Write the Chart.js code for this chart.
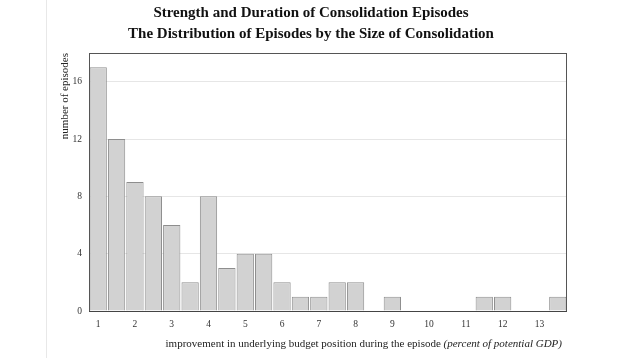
<!DOCTYPE html>
<html>
<head>
<meta charset="utf-8">
<script src="https://cdn.jsdelivr.net/npm/chart.js@4"></script>
<style>
  html, body { margin: 0; padding: 0; background: #ffffff; }
  #wrap { width: 636px; height: 358px; }
</style>
</head>
<body>
<div id="wrap"><canvas id="chart" width="636" height="358"></canvas></div>
<script>
// bin centres (percent of potential GDP), half-point bins
const binCenters = [1, 1.5, 2, 2.5, 3, 3.5, 4, 4.5, 5, 5.5, 6, 6.5, 7, 7.5, 8, 8.5, 9, 9.5, 10, 10.5, 11, 11.5, 12, 12.5, 13, 13.5];
const episodeCounts = [17, 12, 9, 8, 6, 2, 8, 3, 4, 4, 2, 1, 1, 2, 2, 0, 1, 0, 0, 0, 0, 1, 1, 0, 0, 1];
const xTickValues = [1, 2, 3, 4, 5, 6, 7, 8, 9, 10, 11, 12, 13];
const yTickValues = [0, 4, 8, 12, 16];
const titleLines = [
  "Strength and Duration of Consolidation Episodes",
  "The Distribution of Episodes by the Size of Consolidation"
];
const yTitle = "number of episodes";
const xTitleMain = "improvement in underlying budget position during the episode ";
const xTitleNote = "(percent of potential GDP)";

const SERIF = "'Liberation Serif', 'DejaVu Serif', serif";

// frame round the plot, faint page rule on the left, and the mixed-style x title
const decorations = {
  id: "decorations",
  beforeDraw(chart) {
    const ctx = chart.ctx;
    ctx.save();
    ctx.strokeStyle = "#e8e8e8";
    ctx.lineWidth = 1;
    ctx.beginPath();
    ctx.moveTo(46.5, 0);
    ctx.lineTo(46.5, chart.height);
    ctx.stroke();
    ctx.restore();
  },
  afterDatasetsDraw(chart) {
    const { ctx, chartArea } = chart;
    ctx.save();
    ctx.strokeStyle = "#555555";
    ctx.lineWidth = 1;
    ctx.strokeRect(
      Math.round(chartArea.left) + 0.5,
      Math.round(chartArea.top) + 0.5,
      Math.round(chartArea.right - chartArea.left) - 1,
      Math.round(chartArea.bottom - chartArea.top)
    );
    // slightly heavier baseline
    ctx.strokeStyle = "#444444";
    ctx.beginPath();
    ctx.moveTo(chartArea.left, Math.round(chartArea.bottom) + 0.5);
    ctx.lineTo(chartArea.right, Math.round(chartArea.bottom) + 0.5);
    ctx.stroke();

    // x axis title: plain part + italic part, right-aligned under the plot
    ctx.fillStyle = "#222222";
    ctx.textBaseline = "middle";
    ctx.textAlign = "left";
    const y = 344;
    ctx.font = "italic 11px " + SERIF;
    const noteW = ctx.measureText(xTitleNote).width;
    ctx.font = "11px " + SERIF;
    const mainW = ctx.measureText(xTitleMain).width;
    const x0 = chartArea.right - 5 - noteW - mainW;
    ctx.fillText(xTitleMain, x0, y);
    ctx.font = "italic 11px " + SERIF;
    ctx.fillText(xTitleNote, x0 + mainW, y);
    ctx.restore();
  }
};

const data = {
  datasets: [{
    label: "episodes",
    data: binCenters.map((c, i) => ({ x: c, y: episodeCounts[i] })),
    backgroundColor: "#d2d2d2",
    borderColor: "#8e8e8e",
    borderWidth: 1,
    barPercentage: 0.94,
    categoryPercentage: 1
  }]
};

new Chart(document.getElementById("chart"), {
  type: "bar",
  data: data,
  plugins: [decorations],
  options: {
    responsive: false,
    animation: false,
    layout: { padding: { left: 55, right: 69, top: 0, bottom: 0 } },
    plugins: {
      legend: { display: false },
      tooltip: { enabled: false },
      title: {
        display: true,
        text: titleLines,
        color: "#111111",
        font: { family: SERIF, size: 15, weight: "bold", lineHeight: 1.4 },
        padding: { top: 3, bottom: 8 }
      }
    },
    scales: {
      x: {
        type: "linear",
        offset: false,
        min: 0.75,
        max: 13.75,
        afterBuildTicks: (s) => { s.ticks = xTickValues.map(v => ({ value: v })); },
        afterFit: (s) => { s.height = 47; },
        grid: { display: false, drawTicks: false },
        border: { display: false },
        ticks: {
          color: "#333333",
          padding: 8,
          maxRotation: 0,
          autoSkip: false,
          font: { family: SERIF, size: 9.5 }
        }
      },
      y: {
        min: 0,
        max: 18,
        afterBuildTicks: (s) => { s.ticks = yTickValues.map(v => ({ value: v })); },
        afterFit: (s) => { s.width = 34; },
        grid: { color: "#e6e6e6", lineWidth: 1, drawTicks: false },
        border: { display: false },
        ticks: {
          color: "#333333",
          padding: 7,
          font: { family: SERIF, size: 9.5 }
        },
        title: {
          display: true,
          text: yTitle,
          align: "end",
          color: "#222222",
          padding: { top: 4, bottom: 0 },
          font: { family: SERIF, size: 11 }
        }
      }
    }
  }
});
</script>
</body>
</html>
